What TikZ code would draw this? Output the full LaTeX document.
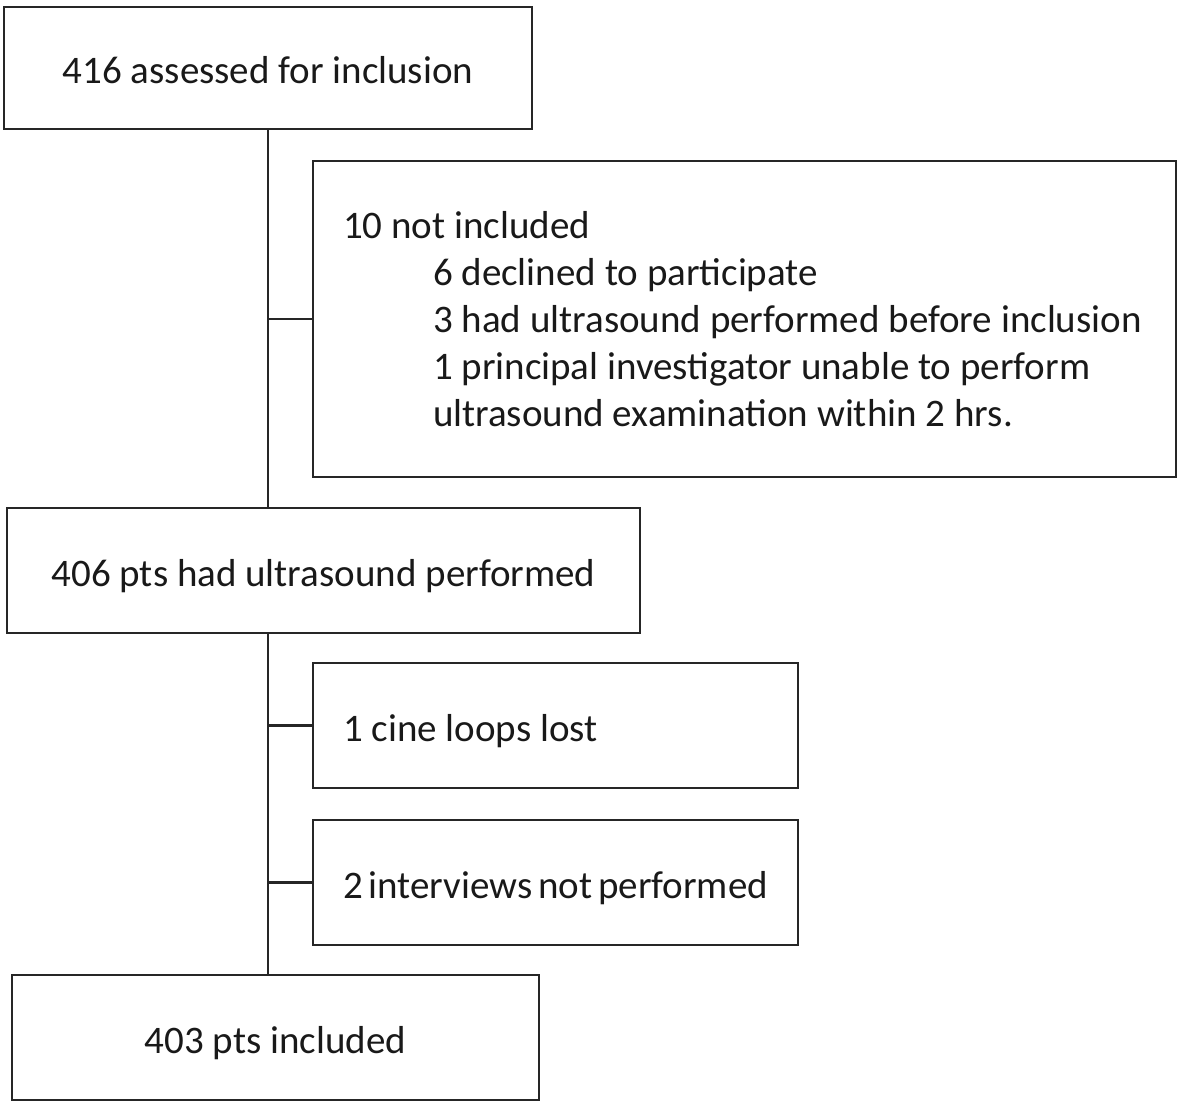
\documentclass[tikz,border=0pt]{standalone}
\usepackage{fontspec}
\setmainfont{Carlito}
\begin{document}
\begin{tikzpicture}[x=1pt,y=-1pt,
  box/.style={draw=black!85, line width=2.5pt, rectangle, inner sep=0pt,
    font=\fontsize{39}{47}\selectfont, text=black!90},
  one/.style={text height=36pt, text depth=5pt},
  lbox/.style={box, inner xsep=30pt, align=left},
  conn/.style={draw=black!85, line width=2.5pt}]
\useasboundingbox (0,0) rectangle (1181,1106);
\node[box, one, minimum width=528, minimum height=122] (a) at (268,68) {416 assessed for inclusion};
\node[lbox, text width=803, minimum height=316] (b) at (744.5,319)
  {\spaceskip=0pt\xspaceskip=0pt 10 not included\\
   \hspace*{90pt}6 declined to participate\\
   \hspace*{90pt}3 had ultrasound performed before inclusion\\
   \hspace*{90pt}1 principal investigator unable to perform\\
   \hspace*{90pt}ultrasound examination within 2 hrs.};
\node[box, one, minimum width=633, minimum height=125] (c) at (323.5,570.5) {406 pts had ultrasound performed};
\node[lbox, one, text width=425, minimum height=125] (d) at (555.5,725.5) {\spaceskip=0pt\xspaceskip=0pt 1 cine loops lost};
\node[lbox, one, text width=425, minimum height=125] (e) at (555.5,882.5) {\spaceskip=0pt\xspaceskip=0pt 2 interviews not performed};
\node[box, one, minimum width=527, minimum height=125] (f) at (275.5,1037.5) {403 pts included};
\coordinate (j1) at (a.south |- c.north);
\coordinate (j2) at (a.south |- c.south);
\coordinate (j3) at (a.south |- f.north);
\draw[conn] (a.south) -- (j1);
\draw[conn] (j2) -- (j3);
\draw[conn] (a.south |- b.west) -- (b.west);
\draw[conn] (a.south |- d.west) -- (d.west);
\draw[conn] (a.south |- e.west) -- (e.west);
\end{tikzpicture}
\end{document}
